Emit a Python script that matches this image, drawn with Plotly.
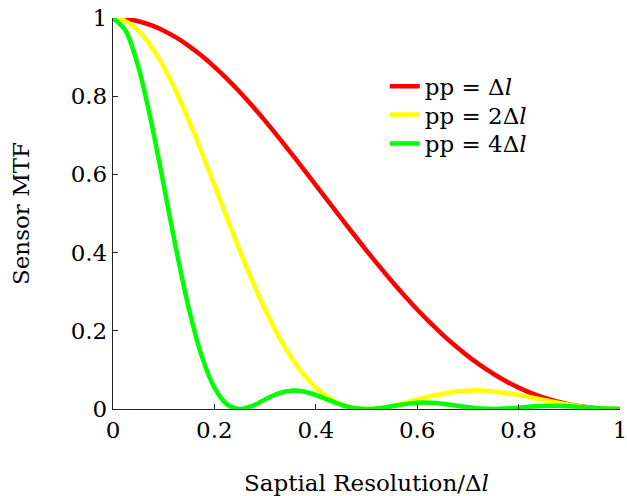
import plotly.graph_objects as go

freq = [0.0, 0.025, 0.05, 0.075, 0.1, 0.125, 0.15, 0.175, 0.2, 0.225, 0.25, 0.275, 0.3, 0.325,
        0.35, 0.375, 0.4, 0.425, 0.45, 0.475, 0.5, 0.525, 0.55, 0.575, 0.6, 0.625, 0.65, 0.675,
        0.7, 0.725, 0.75, 0.775, 0.8, 0.825, 0.85, 0.875, 0.9, 0.925, 0.95, 0.975, 1.0]

mtf_pp1 = [1.0, 0.9979, 0.9918, 0.9816, 0.9675, 0.9497, 0.9281, 0.9032, 0.8751, 0.8442,
           0.8106, 0.7747, 0.7368, 0.6974, 0.6566, 0.6150, 0.5728, 0.5304, 0.4881, 0.4463,
           0.4053, 0.3653, 0.3268, 0.2898, 0.2546, 0.2214, 0.1904, 0.1617, 0.1353, 0.1115,
           0.0901, 0.0712, 0.0547, 0.0406, 0.0289, 0.0194, 0.0119, 0.0065, 0.0028, 0.0007, 0.0]

mtf_pp2 = [1.0, 0.9918, 0.9675, 0.9281, 0.8751, 0.8106, 0.7368, 0.6566, 0.5728, 0.4881,
           0.4053, 0.3268, 0.2546, 0.1904, 0.1353, 0.0901, 0.0547, 0.0289, 0.0119, 0.0028,
           0.0, 0.0022, 0.0080, 0.0158, 0.0243, 0.0324, 0.0392, 0.0441, 0.0468, 0.0470,
           0.0450, 0.0411, 0.0358, 0.0295, 0.0229, 0.0165, 0.0108, 0.0061, 0.0027, 0.0007, 0.0]

mtf_pp4 = [1.0, 0.9675, 0.8751, 0.7368, 0.5728, 0.4053, 0.2546, 0.1353, 0.0547, 0.0119,
           0.0, 0.0080, 0.0243, 0.0392, 0.0468, 0.0450, 0.0358, 0.0229, 0.0108, 0.0027,
           0.0, 0.0022, 0.0072, 0.0125, 0.0159, 0.0162, 0.0136, 0.0091, 0.0045, 0.0012,
           0.0, 0.0010, 0.0034, 0.0061, 0.0079, 0.0083, 0.0071, 0.0048, 0.0024, 0.0006, 0.0]

series_names = ["pp = Δ<i>l</i>", "pp = 2Δ<i>l</i>", "pp = 4Δ<i>l</i>"]
series_colors = ["#FF0000", "#FFFF00", "#00FF00"]
tick_vals = [0, 0.2, 0.4, 0.6, 0.8, 1]
tick_text = ["0", "0.2", "0.4", "0.6", "0.8", "1"]

FONT = "DejaVu Serif"
legend_ids = ["legend", "legend2", "legend3"]
legend_tops = [0.880, 0.808, 0.734]

fig = go.Figure()
for name, ys, col, lg in zip(series_names, [mtf_pp1, mtf_pp2, mtf_pp4], series_colors, legend_ids):
    fig.add_trace(go.Scatter(x=freq, y=ys, mode="lines", name=name, legend=lg,
                             line=dict(color=col, width=4.5, shape="spline", smoothing=0.8)))

axis_common = dict(
    showgrid=False, zeroline=False, showline=True, linecolor="#222222", linewidth=1.3,
    ticks="inside", ticklen=5, tickcolor="#222222", tickwidth=1,
    tickvals=tick_vals, ticktext=tick_text, mirror=False, ticklabeloverflow="allow",
    automargin=False,
    tickfont=dict(family=FONT, size=23, color="black"),
)

legend_style = dict(x=0.536, xanchor="left", yanchor="top", bgcolor="rgba(0,0,0,0)",
                    font=dict(family=FONT, size=23), itemwidth=30)

fig.update_layout(
    width=627, height=496,
    margin=dict(l=113, r=7, t=18, b=87),
    paper_bgcolor="white", plot_bgcolor="white",
    font=dict(family=FONT, size=23, color="black"),
    xaxis=dict(range=[0, 1], title=dict(text="Saptial Resolution/Δ<i>l</i>", standoff=34,
               font=dict(family=FONT, size=23)), **axis_common),
    yaxis=dict(range=[0, 1], title=dict(text="Sensor MTF", standoff=34,
               font=dict(family=FONT, size=23)), **axis_common),
    legend=dict(y=legend_tops[0], **legend_style),
    legend2=dict(y=legend_tops[1], **legend_style),
    legend3=dict(y=legend_tops[2], **legend_style),
    showlegend=True,
)

fig.write_html("out.html")
